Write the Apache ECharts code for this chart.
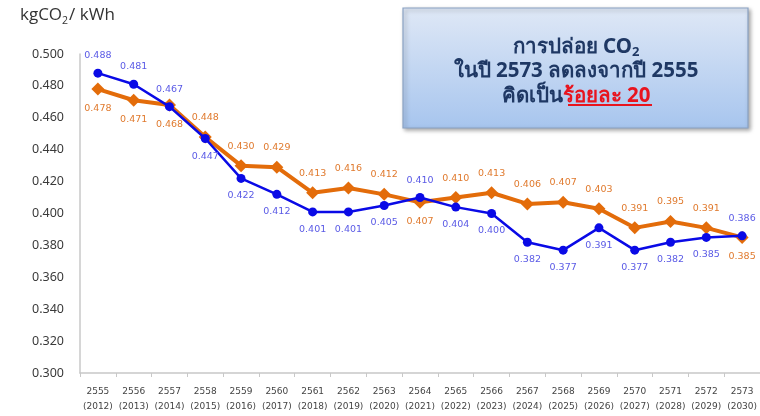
<!DOCTYPE html>
<html><head><meta charset="utf-8">
<script src="https://cdn.jsdelivr.net/npm/echarts@6/dist/echarts.min.js"></script>
<style>html,body{margin:0;padding:0;background:#fff}#c{width:760px;height:416px}</style>
</head><body><div id="c"></div>
<script>
const beYears = ['2555','2556','2557','2558','2559','2560','2561','2562','2563','2564','2565','2566','2567','2568','2569','2570','2571','2572','2573'];
const ceYears = ['2012','2013','2014','2015','2016','2017','2018','2019','2020','2021','2022','2023','2024','2025','2026','2027','2028','2029','2030'];
const blueValues = [0.488,0.481,0.467,0.447,0.422,0.412,0.401,0.401,0.405,0.410,0.404,0.400,0.382,0.377,0.391,0.377,0.382,0.385,0.386];
const orangeValues = [0.478,0.471,0.468,0.448,0.430,0.429,0.413,0.416,0.412,0.407,0.410,0.413,0.406,0.407,0.403,0.391,0.395,0.391,0.385];
const blueAbove = [0,1,2,9,18];
const orangeBelow = [0,1,2,9,18];

const categories = beYears.map((b,i)=> b + '\n(' + ceYears[i] + ')');
const blueData = blueValues.map((v,i)=>({value:v, label:{position: blueAbove.includes(i)?'top':'bottom'}}));
const orangeData = orangeValues.map((v,i)=>({value:v, label:{position: orangeBelow.includes(i)?'bottom':'top'}}));

const navy = '#1f3864';
const boxFont = 'Noto Sans';
const chart = echarts.init(document.getElementById('c'), null, {renderer:'canvas'});
chart.setOption({
  animation:false,
  grid:{left:80, right:-3, top:54, bottom:43, containLabel:false},
  xAxis:{
    type:'category', data:categories, boundaryGap:true,
    axisLine:{lineStyle:{color:'#c8c8c8', width:1.5}},
    axisTick:{show:true, length:4, lineStyle:{color:'#c8c8c8'}},
    axisLabel:{fontFamily:'DejaVu Sans', fontSize:9, color:'#444', lineHeight:15, margin:11, interval:0}
  },
  yAxis:{
    type:'value', min:0.3, max:0.5, interval:0.02,
    axisLine:{show:true, lineStyle:{color:'#c8c8c8', width:1.5}},
    axisTick:{show:false},
    splitLine:{show:false},
    axisLabel:{formatter:v=>v.toFixed(3), fontFamily:'Noto Sans', fontSize:12.5, color:'#3a3a3a', margin:16}
  },
  series:[
    {
      type:'line', data:orangeData, z:2,
      symbol:'diamond', symbolSize:13,
      lineStyle:{color:'#e36c0a', width:4},
      itemStyle:{color:'#e36c0a'},
      label:{show:true, formatter:p=>p.value.toFixed(3), fontFamily:'DejaVu Sans', fontSize:9.5, color:'#e07a2e', distance:8}
    },
    {
      type:'line', data:blueData, z:3,
      symbol:'circle', symbolSize:9,
      lineStyle:{color:'#0a0ae6', width:2.5},
      itemStyle:{color:'#0a0ae6'},
      label:{show:true, formatter:p=>p.value.toFixed(3), fontFamily:'DejaVu Sans', fontSize:9.5, color:'#5a5ae6', distance:8}
    }
  ],
  graphic:[
    {type:'text', left:20, top:7, style:{
      text:'{a|kgCO}{s|2}{a|/ kWh}',
      rich:{a:{fontFamily:'Open Sans', fontSize:17, fill:'#333'}, s:{fontFamily:'Open Sans', fontSize:10.5, fill:'#333', padding:[11,1,0,0]}}
    }},
    {type:'rect', shape:{x:403, y:8, width:345, height:120},
      style:{fill:new echarts.graphic.LinearGradient(0,0,0,1,[{offset:0,color:'#dfe8f6'},{offset:1,color:'#a7c5ee'}]),
      stroke:'#8aa2c4', lineWidth:1.2, shadowBlur:4, shadowOffsetX:2, shadowOffsetY:2, shadowColor:'rgba(0,0,0,0.35)'}},
    {type:'text', x:576, y:47, style:{
      text:'{t|การปล่อย CO}{s|2}', align:'center', verticalAlign:'middle',
      rich:{t:{fontFamily:boxFont, fontWeight:'bold', fontSize:20.5, fill:navy}, s:{fontFamily:boxFont, fontWeight:'bold', fontSize:13, fill:navy, padding:[11,0,0,0]}}
    }},
    {type:'text', x:576, y:71, style:{
      text:'ในปี 2573 ลดลงจากปี 2555', align:'center', verticalAlign:'middle',
      fontFamily:boxFont, fontWeight:'bold', fontSize:20.5, fill:navy
    }},
    {type:'text', x:576, y:96, style:{
      text:'{t|คิดเป็น}{r|ร้อยละ 20}', align:'center', verticalAlign:'middle',
      rich:{t:{fontFamily:boxFont, fontWeight:'bold', fontSize:20.5, fill:navy}, r:{fontFamily:boxFont, fontWeight:'bold', fontSize:20.5, fill:'#e8141e'}}
    }},
    {type:'line', shape:{x1:568, y1:105, x2:652, y2:105}, style:{stroke:'#e8141e', lineWidth:1.8}}
  ]
});
</script></body></html>
